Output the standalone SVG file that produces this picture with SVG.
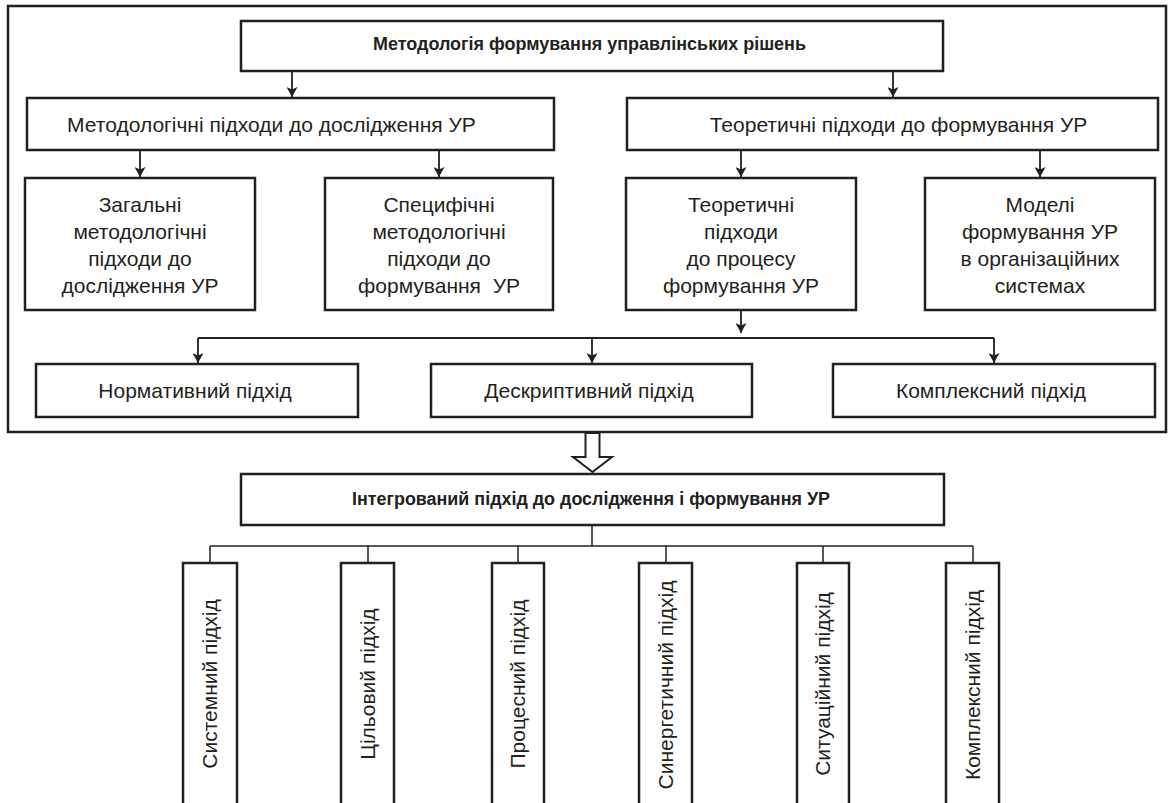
<svg xmlns="http://www.w3.org/2000/svg" width="1172" height="803" viewBox="0 0 1172 803">
<style>
.bx{fill:#fff;stroke:#231f20;stroke-width:2.5}
.fr{fill:none;stroke:#231f20;stroke-width:2.5}
.cn{fill:none;stroke:#231f20;stroke-width:1.8}
.cn2{fill:none;stroke:#231f20;stroke-width:1.5}
.t{font-family:"Liberation Sans",Arial,sans-serif;font-size:21px;fill:#231f20;text-anchor:middle}
.b{font-family:"Liberation Sans",Arial,sans-serif;font-size:19px;font-weight:bold;fill:#231f20;text-anchor:middle}
</style>
<defs>
<marker id="ah" viewBox="0 0 10 10" refX="10" refY="5" markerWidth="10" markerHeight="11" markerUnits="userSpaceOnUse" orient="auto" preserveAspectRatio="none">
<path d="M0,0 L10,5 L0,10 L2.5,5 z" fill="#231f20"/>
</marker>
</defs>
<rect x="0" y="0" width="1172" height="803" fill="#fff"/>
<rect id="frame" class="fr" x="8" y="6" width="1158" height="426"/>

<g id="connectors">
<line class="cn" x1="292" y1="71" x2="292" y2="97" marker-end="url(#ah)"/>
<line class="cn" x1="893" y1="71" x2="893" y2="97" marker-end="url(#ah)"/>
<line class="cn" x1="140" y1="150" x2="140" y2="177" marker-end="url(#ah)"/>
<line class="cn" x1="439" y1="150" x2="439" y2="177" marker-end="url(#ah)"/>
<line class="cn" x1="741" y1="150" x2="741" y2="177" marker-end="url(#ah)"/>
<line class="cn" x1="1040" y1="150" x2="1040" y2="177" marker-end="url(#ah)"/>
<line class="cn" x1="741" y1="310" x2="741" y2="333" marker-end="url(#ah)"/>
<line class="cn" x1="198" y1="338" x2="994" y2="338"/>
<line class="cn" x1="198" y1="338" x2="198" y2="363" marker-end="url(#ah)"/>
<line class="cn" x1="592" y1="338" x2="592" y2="363" marker-end="url(#ah)"/>
<line class="cn" x1="994" y1="338" x2="994" y2="363" marker-end="url(#ah)"/>
<polygon fill="#fff" stroke="#231f20" stroke-width="2" points="585.5,433 599.5,433 599.5,457 612,457 592.5,472 573,457 585.5,457"/>
<line class="cn2" x1="592" y1="525" x2="592" y2="546"/>
<line class="cn2" x1="210" y1="546" x2="973" y2="546"/>
<line class="cn2" x1="210" y1="546" x2="210" y2="563"/>
<line class="cn2" x1="368" y1="546" x2="368" y2="563"/>
<line class="cn2" x1="518" y1="546" x2="518" y2="563"/>
<line class="cn2" x1="666" y1="546" x2="666" y2="563"/>
<line class="cn2" x1="823" y1="546" x2="823" y2="563"/>
<line class="cn2" x1="973" y1="546" x2="973" y2="563"/>
</g>

<g id="n-top">
<rect class="bx" x="241" y="21" width="702" height="50"/>
<text class="b" x="589.5" y="50" textLength="433" lengthAdjust="spacingAndGlyphs">Методологія формування управлінських рішень</text>
</g>

<g id="n-method">
<rect class="bx" x="27" y="98" width="527" height="52"/>
<text class="t" x="271.5" y="132">Методологічні підходи до дослідження УР</text>
</g>

<g id="n-theor">
<rect class="bx" x="627" y="98" width="531" height="52"/>
<text class="t" x="898.5" y="132">Теоретичні підходи до формування УР</text>
</g>

<g id="n-general">
<rect class="bx" x="25" y="178" width="230" height="132"/>
<text class="t" x="140" y="212">Загальні</text>
<text class="t" x="140" y="239">методологічні</text>
<text class="t" x="140" y="266">підходи до</text>
<text class="t" x="140" y="293">дослідження УР</text>
</g>

<g id="n-specific">
<rect class="bx" x="325" y="178" width="228" height="132"/>
<text class="t" x="439" y="212">Специфічні</text>
<text class="t" x="439" y="239">методологічні</text>
<text class="t" x="439" y="266">підходи до</text>
<text class="t" x="439" y="293" xml:space="preserve">формування  УР</text>
</g>

<g id="n-theorproc">
<rect class="bx" x="626" y="178" width="230" height="132"/>
<text class="t" x="741" y="212">Теоретичні</text>
<text class="t" x="741" y="239">підходи</text>
<text class="t" x="741" y="266">до процесу</text>
<text class="t" x="741" y="293">формування УР</text>
</g>

<g id="n-models">
<rect class="bx" x="925" y="178" width="230" height="132"/>
<text class="t" x="1040" y="212">Моделі</text>
<text class="t" x="1040" y="239">формування УР</text>
<text class="t" x="1040" y="266">в організаційних</text>
<text class="t" x="1040" y="293">системах</text>
</g>

<g id="n-normative">
<rect class="bx" x="36" y="364" width="322" height="53"/>
<text class="t" x="195" y="398">Нормативний підхід</text>
</g>

<g id="n-descriptive">
<rect class="bx" x="431" y="364" width="321" height="53"/>
<text class="t" x="589" y="398">Дескриптивний підхід</text>
</g>

<g id="n-complex">
<rect class="bx" x="833" y="364" width="322" height="53"/>
<text class="t" x="991" y="398">Комплексний підхід</text>
</g>

<g id="n-integrated">
<rect class="bx" x="241" y="474" width="703" height="51"/>
<text class="b" x="591" y="505" textLength="478" lengthAdjust="spacingAndGlyphs" style="font-size:18px">Інтегрований підхід до дослідження і формування УР</text>
</g>

<g id="n-system">
<rect class="bx" x="183" y="563" width="54" height="242"/>
<text class="t" transform="translate(210,684) rotate(-90)" x="0" y="7">Системний підхід</text>
</g>
<g id="n-goal">
<rect class="bx" x="341" y="563" width="53" height="242"/>
<text class="t" transform="translate(368,684) rotate(-90)" x="0" y="7">Цільовий підхід</text>
</g>
<g id="n-process">
<rect class="bx" x="492" y="563" width="52" height="242"/>
<text class="t" transform="translate(518,684) rotate(-90)" x="0" y="7">Процесний підхід</text>
</g>
<g id="n-synergy">
<rect class="bx" x="639" y="563" width="53" height="242"/>
<text class="t" transform="translate(666,685) rotate(-90)" x="0" y="7">Синергетичний підхід</text>
</g>
<g id="n-situation">
<rect class="bx" x="797" y="563" width="52" height="242"/>
<text class="t" transform="translate(823,684) rotate(-90)" x="0" y="7">Ситуаційний підхід</text>
</g>
<g id="n-complex2">
<rect class="bx" x="946" y="563" width="53" height="242"/>
<text class="t" transform="translate(973,685) rotate(-90)" x="0" y="7">Комплексний підхід</text>
</g>
</svg>
